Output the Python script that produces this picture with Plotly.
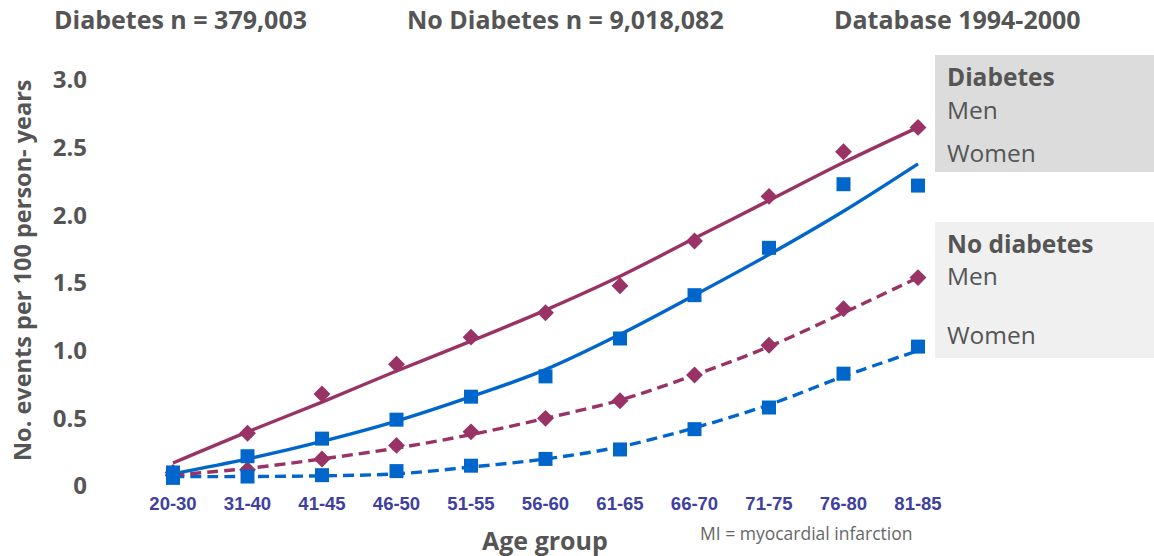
import plotly.graph_objects as go

age_groups = ["20-30", "31-40", "41-45", "46-50", "51-55", "56-60", "61-65", "66-70", "71-75", "76-80", "81-85"]

# Observed incidence (markers)
diab_men = [0.10, 0.39, 0.68, 0.90, 1.10, 1.28, 1.48, 1.81, 2.14, 2.47, 2.65]
diab_women = [0.10, 0.22, 0.35, 0.49, 0.66, 0.81, 1.09, 1.41, 1.76, 2.23, 2.22]
nodiab_men = [0.08, 0.12, 0.20, 0.30, 0.40, 0.50, 0.63, 0.82, 1.04, 1.31, 1.54]
nodiab_women = [0.06, 0.07, 0.08, 0.11, 0.15, 0.20, 0.27, 0.42, 0.58, 0.83, 1.03]

# Fitted trend lines
fit_diab_men = [0.17, 0.40, 0.62, 0.85, 1.07, 1.30, 1.55, 1.83, 2.11, 2.39, 2.65]
fit_diab_women = [0.09, 0.20, 0.33, 0.48, 0.66, 0.86, 1.12, 1.41, 1.71, 2.03, 2.38]
fit_nodiab_men = [0.08, 0.13, 0.20, 0.28, 0.38, 0.50, 0.635, 0.82, 1.03, 1.28, 1.54]
fit_nodiab_women = [0.07, 0.07, 0.075, 0.09, 0.14, 0.20, 0.29, 0.43, 0.60, 0.81, 1.00]

y_ticks = [0, 0.5, 1.0, 1.5, 2.0, 2.5, 3.0]
y_tick_text = ["0", "0.5", "1.0", "1.5", "2.0", "2.5", "3.0"]

PURPLE = "#993366"
BLUE = "#0066CC"
GREY = "#555555"

W, H = 1154, 556
# plot area in screen pixels
PL, PR, PT, PB = 88, 1154, 40, 490
L, R, T, B = PL, W - PR, PT, H - PB
X0, DX = 173.0, 74.5
Y0, DY = 486.0, 135.33

x = list(range(len(age_groups)))
xr = [(PL - X0) / DX, (PR - X0) / DX]
yr = [(Y0 - PB) / DY, (Y0 - PT) / DY]

fig = go.Figure()

def add_fit(fit, color, dash):
    fig.add_trace(go.Scatter(x=x, y=fit, mode="lines", line=dict(color=color, width=3.4, dash=dash, shape="spline"),
                             hoverinfo="skip", showlegend=False))

def add_obs(obs, color, symbol, size):
    fig.add_trace(go.Scatter(x=x, y=obs, mode="markers",
                             marker=dict(color=color, symbol=symbol, size=size, line=dict(width=0)),
                             showlegend=False))

DASH = "11px,6px"
add_fit(fit_nodiab_women, BLUE, DASH)
add_fit(fit_nodiab_men, PURPLE, DASH)
add_fit(fit_diab_women, BLUE, "solid")
add_fit(fit_diab_men, PURPLE, "solid")
add_obs(nodiab_men, PURPLE, "diamond", 13)
add_obs(diab_men, PURPLE, "diamond", 13)
add_obs(nodiab_women, BLUE, "square", 14)
add_obs(diab_women, BLUE, "square", 14)

def px(p):
    return (p - PL) / (PR - PL)

def py(p):
    return 1 - (p - PT) / (PB - PT)

shapes = [
    dict(type="rect", xref="paper", yref="paper", x0=px(935), x1=px(1160), y0=py(172), y1=py(55),
         fillcolor="#dcdcdc", line=dict(width=0), layer="below"),
    dict(type="rect", xref="paper", yref="paper", x0=px(935), x1=px(1160), y0=py(358), y1=py(222),
         fillcolor="#f0f0f0", line=dict(width=0), layer="below"),
]

ann = []
def text(t, xp, yp, size, bold=False, color=GREY, xanchor="left", family="Open Sans"):
    ann.append(dict(text=f"<b>{t}</b>" if bold else t, xref="paper", yref="paper", x=px(xp), y=py(yp),
                    xanchor=xanchor, yanchor="middle", showarrow=False, borderpad=0,
                    font=dict(family=family, size=size, color=color)))

text("Diabetes n = 379,003", 53, 19, 25, bold=True)
text("No Diabetes n = 9,018,082", 406, 19, 25, bold=True)
text("Database 1994-2000", 833, 19, 25, bold=True)

text("Diabetes", 946, 77, 24.5, bold=True)
text("Men", 946, 109, 24.5)
text("Women", 946, 152, 24.5)
text("No diabetes", 946, 243, 24.5, bold=True)
text("Men", 946, 275, 24.5)
text("Women", 946, 334, 24.5)

text("Age group", 545, 540, 25, bold=True, xanchor="center")
text("MI = myocardial infarction", 806, 533, 17.5, xanchor="center", color="#666666")

ann.append(dict(text="<b>No. events per 100 person- years</b>", xref="paper", yref="paper",
                x=px(22), y=py(270), xanchor="center", yanchor="middle", textangle=-90, showarrow=False,
                font=dict(family="Open Sans", size=23.5, color=GREY)))

fig.update_layout(
    width=W, height=H,
    margin=dict(l=L, r=R, t=T, b=B, pad=0),
    paper_bgcolor="white", plot_bgcolor="rgba(0,0,0,0)",
    shapes=shapes, annotations=ann,
    xaxis=dict(range=xr, tickvals=x, ticktext=[f"<b>{a}</b>" for a in age_groups],
               showgrid=False, zeroline=False, showline=False, ticks="",
               tickfont=dict(family="Liberation Sans, Arial", size=18.5, color="#4040A0")),
    yaxis=dict(range=yr, tickvals=y_ticks, ticktext=[f"<b>{t}</b>" for t in y_tick_text],
               showgrid=False, zeroline=False, showline=False, ticks="",
               tickfont=dict(family="Open Sans", size=24, color=GREY)),
)

fig.write_html(
    "out.html",
    config={"displayModeBar": False},
    post_script="document.body.style.margin='0';document.body.style.overflow='hidden';",
)
